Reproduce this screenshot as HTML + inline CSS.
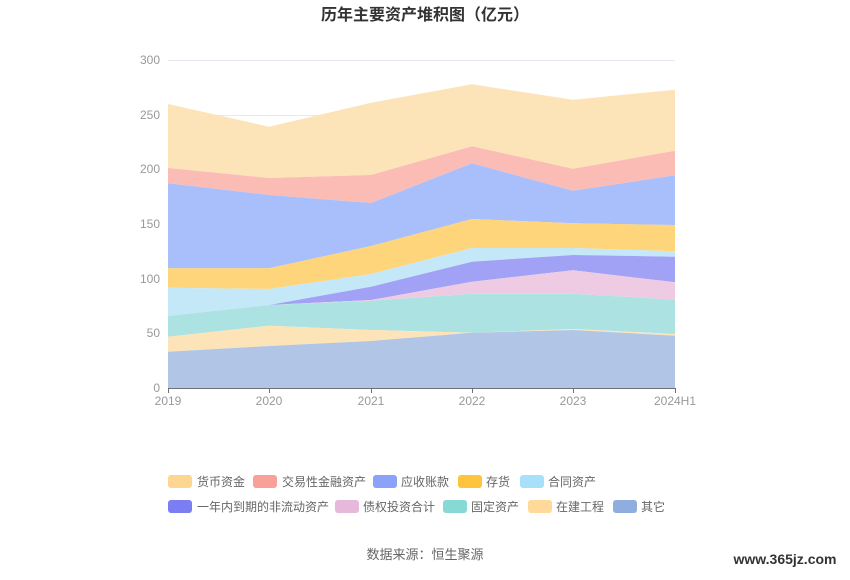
<!DOCTYPE html>
<html><head><meta charset="utf-8"><style>
body{margin:0;background:#fff;font-family:"Liberation Sans","Noto Sans CJK SC",sans-serif;}
</style></head><body>
<svg width="850" height="575" xmlns="http://www.w3.org/2000/svg" font-family="Liberation Sans, Noto Sans CJK SC, sans-serif">
<rect width="850" height="575" fill="#fff"/>
<text x="425" y="20" text-anchor="middle" font-size="16" font-weight="bold" fill="#333">历年主要资产堆积图（亿元）</text>
<g stroke="#e6e9f0" stroke-width="1">
<line x1="168" y1="60.5" x2="675" y2="60.5"/><line x1="168" y1="115.5" x2="675" y2="115.5"/><line x1="168" y1="169.5" x2="675" y2="169.5"/><line x1="168" y1="224.5" x2="675" y2="224.5"/><line x1="168" y1="279.5" x2="675" y2="279.5"/><line x1="168" y1="333.5" x2="675" y2="333.5"/>
</g>
<g font-size="12" fill="#999" text-anchor="end">
<text x="160" y="64">300</text><text x="160" y="119">250</text><text x="160" y="173">200</text><text x="160" y="228">150</text><text x="160" y="283">100</text><text x="160" y="337">50</text><text x="160" y="392">0</text>
</g>
<g stroke="none">
<polygon fill="#fde4b8" points="168,104 269,126.7 371,102.7 472,84.3 573,99.7 675,89.7 675,150.7 573,168.7 472,146.3 371,175 269,178 168,168"/>
<polygon fill="#fbbcb6" points="168,168 269,178 371,175 472,146.3 573,168.7 675,150.7 675,175.3 573,190.7 472,163.3 371,203 269,195 168,183.3"/>
<polygon fill="#a8bffc" points="168,183.3 269,195 371,203 472,163.3 573,190.7 675,175.3 675,225 573,223.3 472,219 371,246 269,268.3 168,268.3"/>
<polygon fill="#fed57a" points="168,268.3 269,268.3 371,246 472,219 573,223.3 675,225 675,251.3 573,248 472,248 371,274 269,289 168,287.7"/>
<polygon fill="#c4e8f8" points="168,287.7 269,289 371,274 472,248 573,248 675,251.3 675,256.7 573,255 472,261.7 371,286.7 269,305 168,316"/>
<polygon fill="#a1a2f5" points="168,316 269,305 371,286.7 472,261.7 573,255 675,256.7 675,282.3 573,270.3 472,281.7 371,300 269,305 168,316"/>
<polygon fill="#efcbe3" points="168,316 269,305 371,300 472,281.7 573,270.3 675,282.3 675,299.7 573,293.7 472,293.7 371,300.7 269,305 168,316"/>
<polygon fill="#ace3e2" points="168,316 269,305 371,300.7 472,293.7 573,293.7 675,299.7 675,334 573,329 472,332.7 371,330 269,325.7 168,336.7"/>
<polygon fill="#fde4b8" points="168,336.7 269,325.7 371,330 472,332.7 573,329 675,334 675,335.7 573,330 472,332.7 371,341 269,346 168,351.7"/>
<polygon fill="#b1c5e6" points="168,351.7 269,346 371,341 472,332.7 573,330 675,335.7 675,388 168,388"/>
</g>
<g stroke="#6e7079" stroke-width="1">
<line x1="168" y1="388.5" x2="675" y2="388.5"/>
<line x1="168.5" y1="388" x2="168.5" y2="393"/><line x1="269.5" y1="388" x2="269.5" y2="393"/><line x1="371.5" y1="388" x2="371.5" y2="393"/><line x1="472.5" y1="388" x2="472.5" y2="393"/><line x1="573.5" y1="388" x2="573.5" y2="393"/><line x1="675.5" y1="388" x2="675.5" y2="393"/>
</g>
<g font-size="12" fill="#999" text-anchor="middle">
<text x="168" y="405">2019</text><text x="269" y="405">2020</text><text x="371" y="405">2021</text><text x="472" y="405">2022</text><text x="573" y="405">2023</text><text x="675" y="405">2024H1</text>
</g>
<g font-size="12" fill="#666">
<rect x="168" y="475" width="24" height="13" rx="3" fill="#fdd692"/><text x="197" y="486">货币资金</text>
<rect x="253" y="475" width="24" height="13" rx="3" fill="#f9a198"/><text x="282" y="486">交易性金融资产</text>
<rect x="373" y="475" width="24" height="13" rx="3" fill="#8aa3f8"/><text x="401" y="486">应收账款</text>
<rect x="458" y="475" width="24" height="13" rx="3" fill="#fec43d"/><text x="486" y="486">存货</text>
<rect x="520" y="475" width="24" height="13" rx="3" fill="#a8e0fb"/><text x="548" y="486">合同资产</text>
<rect x="168" y="500" width="24" height="13" rx="3" fill="#7b7ef3"/><text x="197" y="511">一年内到期的非流动资产</text>
<rect x="335" y="500" width="24" height="13" rx="3" fill="#e6b8da"/><text x="363" y="511">债权投资合计</text>
<rect x="443" y="500" width="24" height="13" rx="3" fill="#87d9d6"/><text x="471" y="511">固定资产</text>
<rect x="528" y="500" width="24" height="13" rx="3" fill="#fed999"/><text x="556" y="511">在建工程</text>
<rect x="613" y="500" width="24" height="13" rx="3" fill="#8fadde"/><text x="641" y="511">其它</text>
</g>
<text x="425" y="559" text-anchor="middle" font-size="13" fill="#666">数据来源：恒生聚源</text>
<text x="785" y="564" text-anchor="middle" font-size="14" font-weight="bold" fill="#333">www.365jz.com</text>
</svg>
</body></html>
